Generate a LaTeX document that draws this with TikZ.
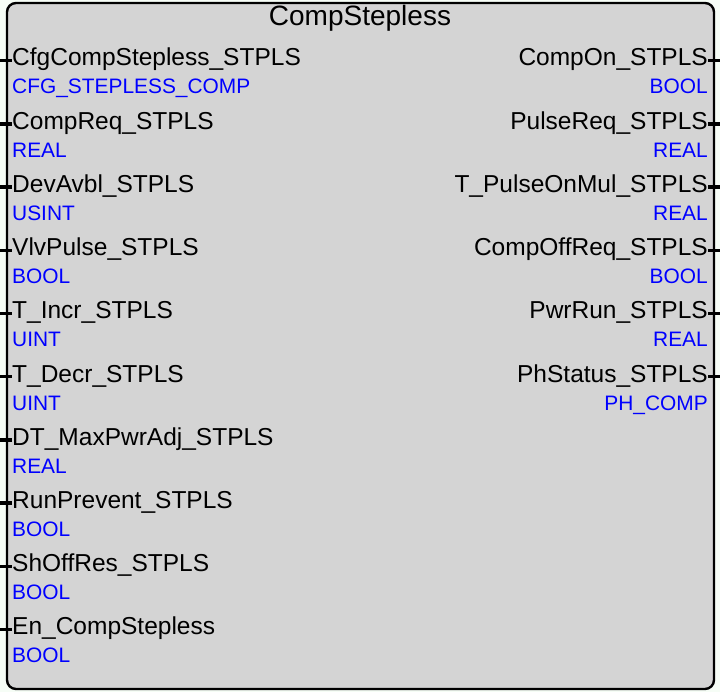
\documentclass[tikz,border=0pt]{standalone}
\usepackage{fontspec}
\setmainfont{Liberation Sans}
\definecolor{bgc}{RGB}{246,253,246}
\definecolor{boxfill}{RGB}{212,212,212}
\definecolor{typeblue}{RGB}{0,0,255}
\begin{document}
\begin{tikzpicture}[x=1pt,y=-1pt,
  blockbox/.style={draw=black,line width=2.4pt,fill=boxfill,rounded corners=9pt},
  pinname/.style={inner sep=0pt,font=\fontsize{24.5}{25}\selectfont,text=black},
  pintype/.style={inner sep=0pt,font=\fontsize{20.9}{21}\selectfont,text=typeblue},
  titletext/.style={inner sep=0pt,font=\fontsize{28}{28}\selectfont,text=black},
  pinline/.style={line width=3.5pt,draw=black}]
\fill[bgc] (0,0) rectangle (720,692);
\useasboundingbox (0,0) rectangle (720,692);
\draw[blockbox] (7,3) rectangle (714,689);
\node[titletext,anchor=base] (title) at (360,26) {CompStepless};
% inputs
\foreach \nm/\ty [count=\i from 0] in {
  CfgCompStepless\_STPLS/CFG\_STEPLESS\_COMP,
  CompReq\_STPLS/REAL,
  DevAvbl\_STPLS/USINT,
  VlvPulse\_STPLS/BOOL,
  T\_Incr\_STPLS/UINT,
  T\_Decr\_STPLS/UINT,
  DT\_MaxPwrAdj\_STPLS/REAL,
  RunPrevent\_STPLS/BOOL,
  ShOffRes\_STPLS/BOOL,
  En\_CompStepless/BOOL}{
  \pgfmathsetmacro{\yb}{66+63.2*\i}
  \node[pinname,anchor=base west] (in\i) at (12,\yb) {\nm};
  \node[pintype,anchor=base west] (int\i) at (12,\yb+28) {\ty};
  \coordinate (inp\i) at (0,\yb-5.3);
  \draw[pinline] (inp\i) -- (in\i.west |- inp\i);
}
% outputs
\foreach \nm/\ty [count=\i from 0] in {
  CompOn\_STPLS/BOOL,
  PulseReq\_STPLS/REAL,
  T\_PulseOnMul\_STPLS/REAL,
  CompOffReq\_STPLS/BOOL,
  PwrRun\_STPLS/REAL,
  PhStatus\_STPLS/PH\_COMP}{
  \pgfmathsetmacro{\yb}{66+63.2*\i}
  \node[pinname,anchor=base east] (out\i) at (708,\yb) {\nm};
  \node[pintype,anchor=base east] (outt\i) at (708,\yb+28) {\ty};
  \coordinate (outp\i) at (720,\yb-5.3);
  \draw[pinline] (out\i.east |- outp\i) -- (outp\i);
}
\end{tikzpicture}
\end{document}
